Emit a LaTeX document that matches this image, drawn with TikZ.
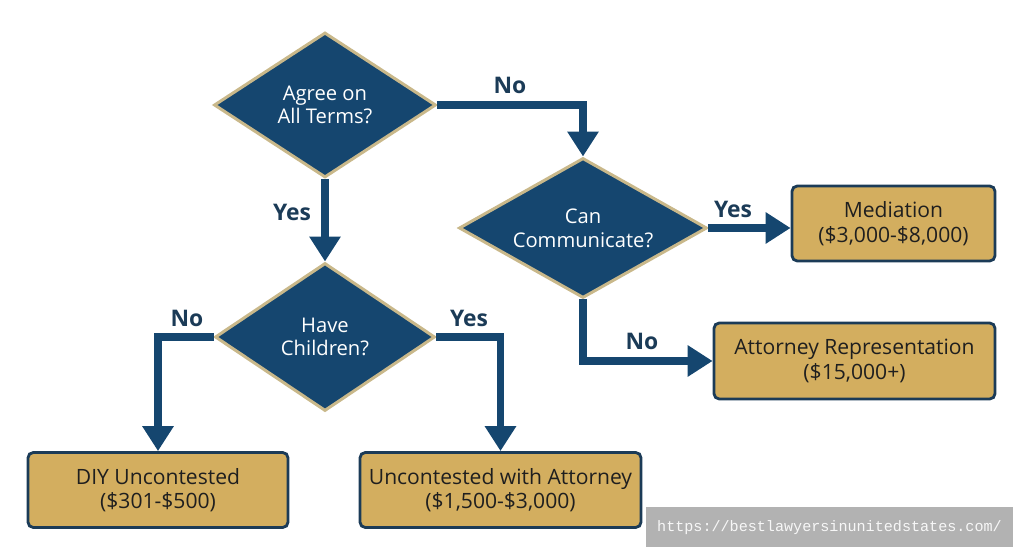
\documentclass[tikz,border=0pt]{standalone}
\usepackage{fontspec}
\setmainfont{Open Sans}
\setmonofont{Liberation Mono}
\usepackage{xcolor}
\usetikzlibrary{arrows.meta,shapes.geometric,positioning}
\definecolor{navy}{HTML}{15466F}
\definecolor{tan}{HTML}{C9B88A}
\definecolor{gold}{HTML}{D3AE5F}
\definecolor{ink}{HTML}{1B3B57}
\definecolor{wmark}{HTML}{B2B2B2}

\begin{document}
\begin{tikzpicture}[
  decision/.style={diamond, aspect=1.7, draw=tan, line width=1.7pt, fill=navy, inner sep=0pt,
                   text=white, align=center, font=\fontsize{11.5}{13.5}\selectfont},
  outcome/.style={draw=ink, line width=1.6pt, fill=gold, rounded corners=3pt,
                  align=center, text=black!88, font=\fontsize{12}{14}\selectfont},
  flow/.style={draw=navy, line width=4pt, line join=miter,
               -{Triangle[length=0.5cm,width=0.6cm]}},
  lbl/.style={text=ink, font=\bfseries\fontsize{13}{15}\selectfont}]
  \useasboundingbox (0,0) rectangle (20.48,-11.18);

  \node[decision, minimum width=4.44cm, minimum height=2.90cm] (agree) at (6.50,-2.10) {Agree on\\All Terms?};
  \node[decision, minimum width=4.96cm, minimum height=2.80cm] (talk) at (11.66,-4.56) {Can\\Communicate?};
  \node[decision, minimum width=4.40cm, minimum height=2.96cm] (kids) at (6.50,-6.74) {Have\\Children?};

  \node[outcome, minimum width=4.06cm, minimum height=1.50cm] (med) at (17.87,-4.47) {Mediation\\(\$3,000-\$8,000)};
  \node[outcome, minimum width=5.62cm, minimum height=1.52cm] (rep) at (17.09,-7.22) {Attorney Representation\\(\$15,000+)};
  \node[outcome, minimum width=5.20cm, minimum height=1.50cm] (diy) at (3.16,-9.80) {DIY Uncontested\\(\$301-\$500)};
  \node[outcome, minimum width=5.62cm, minimum height=1.50cm] (unc) at (10.01,-9.80) {Uncontested with Attorney\\(\$1,500-\$3,000)};

  \draw[flow] (agree.east) -| (talk.north);
  \draw[flow] (agree.south) -- (kids.north);
  \draw[flow] (talk.east) -- (talk.east -| med.west);
  \draw[flow] (talk.south) |- (rep.west);
  \draw[flow] (kids.west) -| (diy.north);
  \draw[flow] (kids.east) -| (unc.north);

  \node[lbl] (no1) at (10.20,-1.70) {No};
  \node[lbl] (yes1) at (5.84,-4.24) {Yes};
  \node[lbl] (yes2) at (14.66,-4.18) {Yes};
  \node[lbl] (no2) at (12.84,-6.82) {No};
  \node[lbl] (no3) at (3.74,-6.36) {No};
  \node[lbl] (yes3) at (9.38,-6.36) {Yes};

  \node[fill=wmark, minimum width=7.34cm, minimum height=0.80cm, text=white!94!gray,
        font=\ttfamily\fontsize{8.6}{10}\selectfont] (url) at (16.59,-10.55) {https://bestlawyersinunitedstates.com/};
\end{tikzpicture}
\end{document}
